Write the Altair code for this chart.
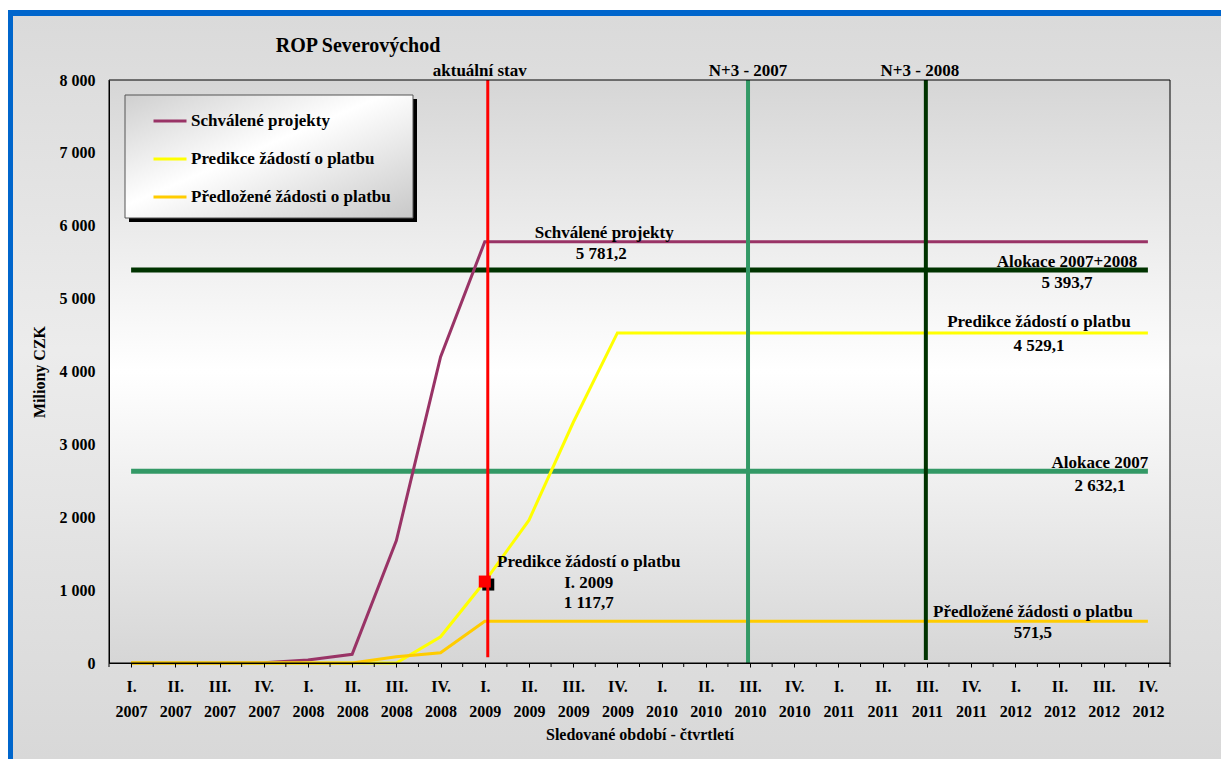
import altair as alt
import pandas as pd

W, H = 1061, 583
FONT = "Liberation Serif"

# ---------------- data ----------------
quarters = ["I. 2007", "II. 2007", "III. 2007", "IV. 2007",
            "I. 2008", "II. 2008", "III. 2008", "IV. 2008",
            "I. 2009", "II. 2009", "III. 2009", "IV. 2009",
            "I. 2010", "II. 2010", "III. 2010", "IV. 2010",
            "I. 2011", "II. 2011", "III. 2011", "IV. 2011",
            "I. 2012", "II. 2012", "III. 2012", "IV. 2012"]

schvalene = [0, 0, 0, 5, 40, 120, 1680, 4200,
             5781.2, 5781.2, 5781.2, 5781.2, 5781.2, 5781.2, 5781.2, 5781.2,
             5781.2, 5781.2, 5781.2, 5781.2, 5781.2, 5781.2, 5781.2, 5781.2]
predikce = [0, 0, 0, 0, 0, 0, 0, 360,
            1117.7, 1960, 3300, 4529.1, 4529.1, 4529.1, 4529.1, 4529.1,
            4529.1, 4529.1, 4529.1, 4529.1, 4529.1, 4529.1, 4529.1, 4529.1]
predlozene = [0, 0, 0, 0, 0, 0, 85, 140,
              571.5, 571.5, 571.5, 571.5, 571.5, 571.5, 571.5, 571.5,
              571.5, 571.5, 571.5, 571.5, 571.5, 571.5, 571.5, 571.5]

series_names = ["Schválené projekty", "Predikce žádostí o platbu", "Předložené žádosti o platbu"]
series_values = [schvalene, predikce, predlozene]
series_colors = ["#993366", "#ffff00", "#ffcc00"]

alloc_names = ["Alokace 2007+2008", "Alokace 2007"]
alloc_values = [5393.7, 2632.1]
alloc_colors = ["#003300", "#339966"]

vline_names = ["aktuální stav", "N+3 - 2007", "N+3 - 2008"]
vline_quarters = ["I. 2009", "III. 2010", "III. 2011"]
vline_from = [80, 0, 40]
vline_to = [8000, 8000, 8000]
vline_colors = ["#ff0000", "#339966", "#003300"]

marker_quarter = "I. 2009"
marker_value = 1117.7

ann_texts = ["Schválené projekty", "5 781,2",
             "Alokace 2007+2008", "5 393,7",
             "Predikce žádostí o platbu", "4 529,1",
             "Alokace 2007", "2 632,1",
             "Předložené žádosti o platbu", "571,5",
             "Predikce žádostí o platbu", "I. 2009", "1 117,7"]
ann_quarters = ["III. 2009", "III. 2009",
                "IV. 2012", "IV. 2012",
                "IV. 2012", "IV. 2012",
                "IV. 2012", "IV. 2012",
                "IV. 2012", "IV. 2012",
                "I. 2009", "I. 2009", "I. 2009"]
ann_values = [5781.2, 5781.2, 5393.7, 5393.7, 4529.1, 4529.1,
              2632.1, 2632.1, 571.5, 571.5, 1117.7, 1117.7, 1117.7]

y_ticks = [0, 1000, 2000, 3000, 4000, 5000, 6000, 7000, 8000]
chart_title = "ROP Severovýchod"
x_title = "Sledované období - čtvrtletí"
y_title = "Miliony CZK"

# ---------------- layout / style ----------------
FS = 17
ann_dx = [31, 28, -81, -81, -109, -109, -48, -48, -115, -115, 104, 104, 104]
ann_dy = [-9, 12, -8, 13, -11, 13, -8, 15, -9, 12, -20, 1, 21]
vlabel_dx = [-5, -2, -7]
vline_dx = [3, -2, -1]
vline_width = [3, 4, 4]
STEP = W / len(quarters)

xscale = alt.Scale(type="point", domain=quarters, padding=0.5)
yscale = alt.Scale(domain=[0, 8000], nice=False)

x_axis = alt.Axis(title=x_title, labelExpr="split(datum.value, ' ')", labelAngle=0,
                  labelFont=FONT, labelFontSize=16, labelFontWeight="bold", labelColor="black",
                  labelLineHeight=25, labelPadding=11, tickSize=4, tickColor="black",
                  domainColor="black", grid=False, zindex=2,
                  titleFont=FONT, titleFontSize=16, titleFontWeight="bold", titleColor="black",
                  titlePadding=7)
y_axis = alt.Axis(title=y_title, values=y_ticks,
                  labelExpr="replace(format(datum.value, ','), ',', ' ')",
                  labelFont=FONT, labelFontSize=16, labelFontWeight="bold", labelColor="black",
                  labelPadding=14, ticks=False, domainColor="black", grid=False, zindex=2,
                  titleFont=FONT, titleFontSize=16, titleFontWeight="bold", titleColor="black",
                  titlePadding=12)


def X(field="q"):
    return alt.X(f"{field}:N", scale=xscale, axis=x_axis)


def Y(field="v"):
    return alt.Y(f"{field}:Q", scale=yscale, axis=y_axis)


one = pd.DataFrame({"a": [1]})


def deco_rect(x, x2, y, y2, **kw):
    return alt.Chart(one).mark_rect(**kw).encode(
        x=alt.value(x), x2=alt.value(x2), y=alt.value(y), y2=alt.value(y2))


def vgrad(stops):
    return alt.LinearGradient(gradient="linear", x1=0, y1=0, x2=0, y2=1,
                              stops=[alt.GradientStop(offset=o, color=c) for o, c in stops])


layers = []
# outer frame and blue border
layers.append(deco_rect(-96, 1112, -64, 679,
                        fill=vgrad([(0, "#dadada"), (0.45, "#ececec"), (1, "#d8d8d8")])))
layers.append(deco_rect(-101, 1112, -70, -64, fill="#0066cc"))
layers.append(deco_rect(-101, -96, -70, 679, fill="#0066cc"))
# plot background gradient
layers.append(deco_rect(0, W, 0, H,
                        fill=vgrad([(0, "#d6d6d6"), (0.5, "#ffffff"), (1, "#d6d6d6")])))
# legend box with shadow
layers.append(deco_rect(20, 308, 19, 142, fill="black"))
layers.append(deco_rect(16, 304, 15, 138, stroke="#555555", strokeWidth=1,
                        fill=alt.LinearGradient(gradient="linear", x1=0, y1=0, x2=1, y2=1,
                                                stops=[alt.GradientStop(offset=0, color="#cfcfcf"),
                                                       alt.GradientStop(offset=0.45, color="#ffffff"),
                                                       alt.GradientStop(offset=1, color="#c8c8c8")])))

# chart title
layers.append(alt.Chart(pd.DataFrame({"t": [chart_title]})).mark_text(
    font=FONT, fontSize=20, fontWeight="bold", color="black", align="center",
    baseline="middle").encode(x=alt.value(249), y=alt.value(-34), text="t:N"))

# allocation lines
for name, val, col in zip(alloc_names, alloc_values, alloc_colors):
    d = pd.DataFrame({"q": [quarters[0], quarters[-1]], "v": [val, val]})
    layers.append(alt.Chart(d).mark_line(color=col, strokeWidth=5).encode(x=X(), y=Y()))

# main series
color_scale = alt.Scale(domain=series_names, range=series_colors)
for name, vals in zip(series_names, series_values):
    d = pd.DataFrame({"q": quarters, "v": vals, "s": [name] * len(quarters)})
    layers.append(alt.Chart(d).mark_line(strokeWidth=3).encode(
        x=X(), y=Y(),
        color=alt.Color("s:N", scale=color_scale, title=None,
                        legend=alt.Legend(orient="none", legendX=43, legendY=23,
                                          symbolType="stroke", symbolSize=1089,
                                          symbolStrokeWidth=3, labelFont=FONT,
                                          labelFontSize=FS, labelFontWeight="bold",
                                          labelColor="black", labelOffset=3,
                                          rowPadding=12, padding=0, labelLimit=400))))

# marker with shadow
md = pd.DataFrame({"q": [marker_quarter], "v": [marker_value]})
layers.append(alt.Chart(md).mark_square(size=144, color="black", opacity=1,
                                        xOffset=3.5, yOffset=3).encode(x=X(), y=Y()))
layers.append(alt.Chart(md).mark_square(size=144, color="#ff0000", opacity=1).encode(x=X(), y=Y()))

# vertical lines + labels
for i in range(3):
    d = pd.DataFrame({"q": [vline_quarters[i]], "v": [vline_from[i]], "v2": [vline_to[i]],
                      "t": [vline_names[i]]})
    layers.append(alt.Chart(d).mark_rule(color=vline_colors[i], strokeWidth=vline_width[i],
                                         xOffset=vline_dx[i]).encode(
        x=X(), y=Y(), y2="v2:Q"))
    layers.append(alt.Chart(d).mark_text(font=FONT, fontSize=FS, fontWeight="bold", color="black",
                                         dx=vlabel_dx[i], dy=-9, baseline="middle").encode(
        x=X(), y=alt.Y("v2:Q", scale=yscale, axis=y_axis), text="t:N"))

# annotations
for t, q, v, dx, dy in zip(ann_texts, ann_quarters, ann_values, ann_dx, ann_dy):
    d = pd.DataFrame({"q": [q], "v": [v], "t": [t]})
    layers.append(alt.Chart(d).mark_text(font=FONT, fontSize=FS, fontWeight="bold", color="black",
                                         align="center", baseline="middle", dx=dx, dy=dy).encode(
        x=X(), y=Y(), text="t:N"))

# boundary ticks between quarters
bd = pd.DataFrame({"q": quarters})
layers.append(alt.Chart(bd).mark_rule(color="black", strokeWidth=1, xOffset=-STEP / 2).encode(
    x=X(), y=alt.value(H), y2=alt.value(H + 4)))
layers.append(alt.Chart(pd.DataFrame({"q": [quarters[-1]]})).mark_rule(
    color="black", strokeWidth=1, xOffset=STEP / 2).encode(
    x=X(), y=alt.value(H), y2=alt.value(H + 4)))

# plot border
layers.append(deco_rect(0, W, 0, H, fillOpacity=0, stroke="black", strokeWidth=1))

chart = alt.layer(*layers).properties(
    width=W, height=H,
    padding={"left": 101, "top": 72, "right": 51, "bottom": 96},
    autosize=alt.AutoSizeParams(type="none"),
    background="white",
).configure_view(strokeWidth=0)

chart.save("out.html", embed_options={"renderer": "svg", "actions": False})
